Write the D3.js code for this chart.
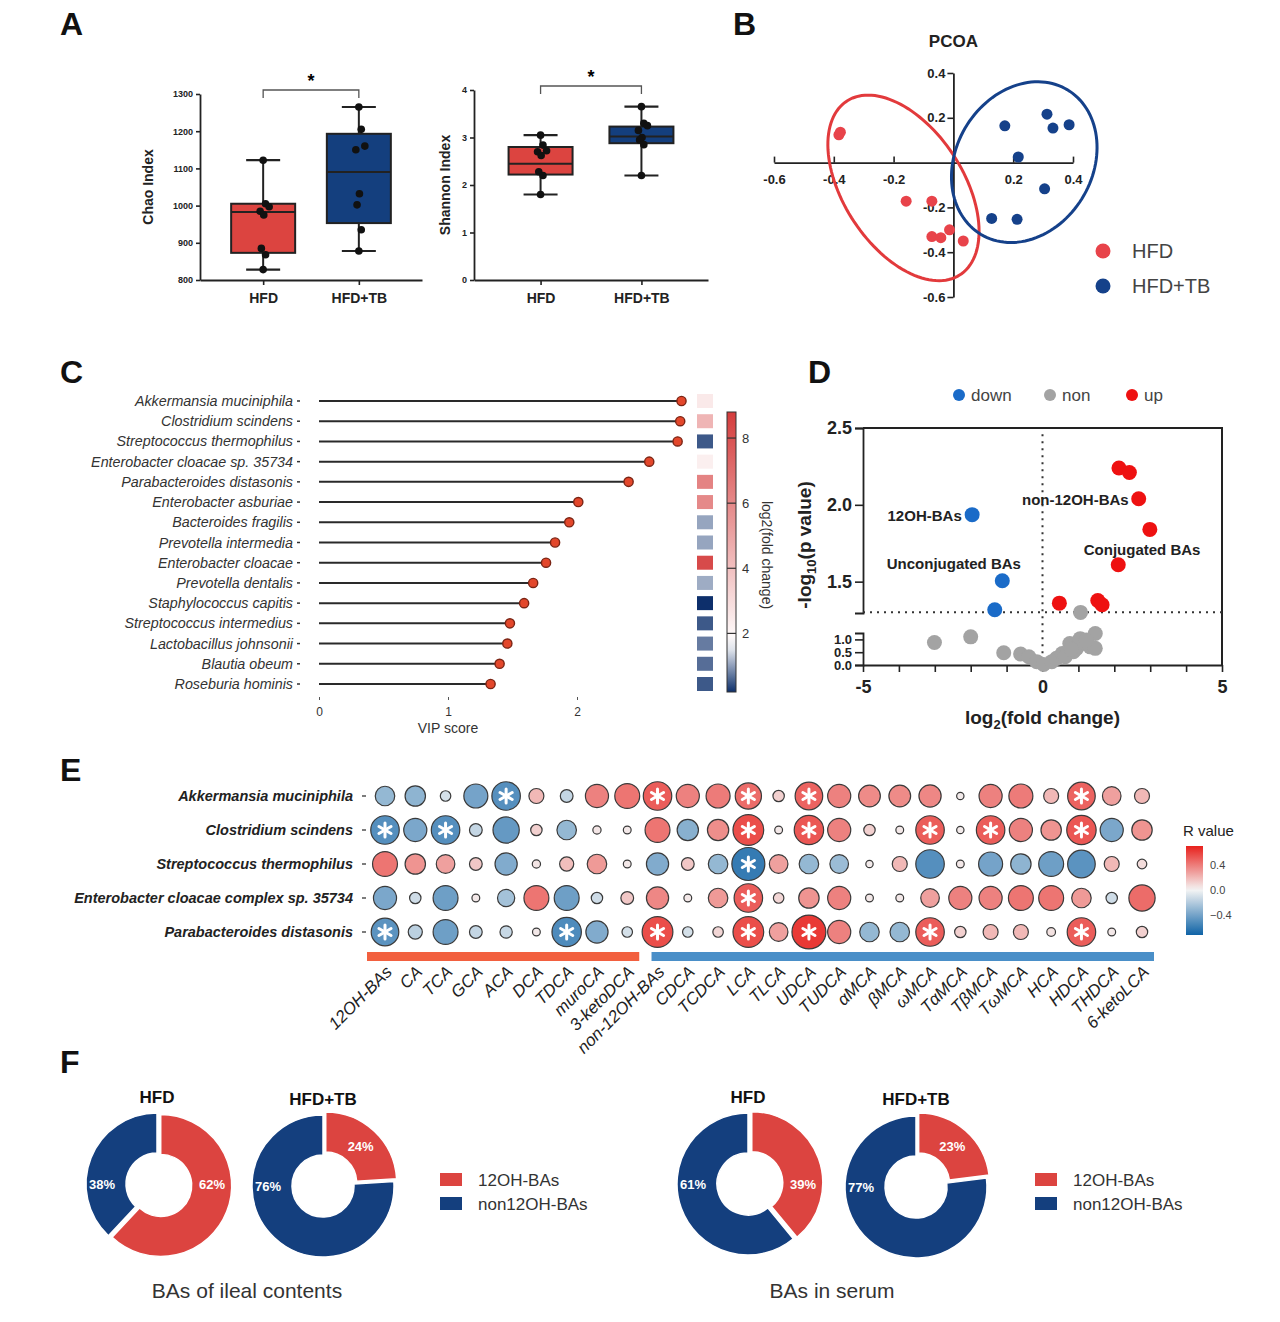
<!DOCTYPE html>
<html>
<head>
<meta charset="utf-8">
<script src="https://cdn.jsdelivr.net/npm/d3@7"></script>
<style>
body { margin: 0; background: #fff; }
svg { display: block; font-family: "Liberation Sans", Arial, sans-serif; }
</style>
</head>
<body>
<svg id="fig" width="1280" height="1322"></svg>
<script>
// ---- data ----
var groups = ["HFD", "HFD+TB"];

// A: alpha diversity (points and five-number summaries)
var chaoHFD = [1122, 1005, 997, 985, 975, 885, 868, 828];
var chaoTB = [1265, 1205, 1160, 1150, 1032, 1002, 935, 878];
var chaoBoxHFD = [828, 873, 983, 1005, 1122];
var chaoBoxTB = [878, 953, 1090, 1193, 1265];
var shannonHFD = [3.05, 2.84, 2.72, 2.70, 2.62, 2.28, 2.20, 1.80];
var shannonTB = [3.65, 3.30, 3.25, 3.15, 3.00, 2.95, 2.85, 2.20];
var shannonBoxHFD = [1.80, 2.22, 2.45, 2.80, 3.05];
var shannonBoxTB = [2.20, 2.88, 3.02, 3.23, 3.65];
var jitter = [0, 0.04, 0.1, -0.05, 0.01, -0.03, 0.04, 0];

// B: PCoA
var pcoaHFD = [[-0.383, 0.124], [-0.378, 0.136], [-0.158, -0.172], [-0.072, -0.172],
               [-0.072, -0.330], [-0.042, -0.335], [-0.013, -0.300], [0.033, -0.350]];
var pcoaTB = [[0.172, 0.164], [0.313, 0.216], [0.333, 0.154], [0.387, 0.169],
              [0.217, 0.025], [0.305, -0.117], [0.128, -0.249], [0.213, -0.253]];
var ellipseHFD = {center: [-0.167, -0.113], u: [0.189, -0.388], v: [-0.168, -0.145]};
var ellipseTB = {center: [0.237, 0.002], u: [0.143, 0.324], v: [0.197, -0.154]};

// C: VIP lollipop
var species = ["Akkermansia muciniphila", "Clostridium scindens", "Streptococcus thermophilus",
  "Enterobacter cloacae  sp. 35734", "Parabacteroides distasonis", "Enterobacter asburiae",
  "Bacteroides fragilis", "Prevotella intermedia", "Enterobacter cloacae", "Prevotella dentalis",
  "Staphylococcus capitis", "Streptococcus intermedius", "Lactobacillus johnsonii",
  "Blautia obeum", "Roseburia hominis"];
var vipScore = [2.81, 2.80, 2.78, 2.56, 2.40, 2.01, 1.94, 1.83, 1.76, 1.66, 1.59, 1.48, 1.46, 1.40, 1.33];
var log2FC = [2.5, 4.4, 0.5, 2.3, 6.2, 6.0, 1.05, 1.05, 8.3, 1.1, 0.2, 0.5, 0.75, 0.65, 0.5];
var fcTicks = [2, 4, 6, 8];

// D: volcano
var downPts = [[-1.96, 1.936], [-1.12, 1.506], [-1.33, 1.317]];
var upPts = [[2.13, 2.24], [2.42, 2.21], [2.68, 2.04], [2.99, 1.84], [2.11, 1.61],
             [0.47, 1.36], [1.54, 1.377], [1.66, 1.35]];
var nonPts = [[-3.01, 0.88], [-2.0, 1.10], [-1.08, 0.48], [-0.61, 0.43], [-0.38, 0.32],
  [-0.16, 0.13], [0.03, 0.02], [0.26, 0.13], [0.39, 0.26], [0.55, 0.45], [0.63, 0.32],
  [0.76, 0.84], [0.86, 0.52], [0.95, 0.65], [1.05, 1.03], [1.19, 0.84], [1.33, 0.71],
  [1.47, 1.23], [1.47, 0.65], [1.06, 1.30], [0.8, 0.62], [1.22, 0.98]];
var volcanoNotes = [
  {text: "12OH-BAs", x: -2.25, y: 1.936, anchor: "end"},
  {text: "non-12OH-BAs", x: 2.4, y: 2.04, anchor: "end"},
  {text: "Unconjugated BAs", x: -0.6, y: 1.62, anchor: "end"},
  {text: "Conjugated BAs", x: 1.15, y: 1.71, anchor: "start"}
];

// E: correlation bubbles
var taxa = ["Akkermansia muciniphila", "Clostridium scindens", "Streptococcus thermophilus",
  "Enterobacter cloacae complex sp. 35734", "Parabacteroides distasonis"];
var bileAcids = ["12OH-BAs", "CA", "TCA", "GCA", "ACA", "DCA", "TDCA", "muroCA", "3-ketoDCA",
  "non-12OH-BAs", "CDCA", "TCDCA", "LCA", "TLCA", "UDCA", "TUDCA", "\u03b1MCA", "\u03b2MCA",
  "\u03c9MCA", "T\u03b1MCA", "T\u03b2MCA", "T\u03c9MCA", "HCA", "HDCA", "THDCA", "6-ketoLCA"];
var rAkkermansia = [-0.30, -0.32, -0.10, -0.40, -0.50, 0.20, -0.15, 0.38, 0.42, 0.50, 0.38, 0.40, 0.45,
  0.12, 0.48, 0.38, 0.35, 0.35, 0.36, 0.03, 0.38, 0.40, 0.20, 0.48, 0.28, 0.20];
var rClostridium = [-0.50, -0.38, -0.50, -0.15, -0.45, 0.12, -0.30, 0.05, 0.04, 0.42, -0.34, 0.34, 0.55,
  0.04, 0.52, 0.38, 0.12, 0.04, 0.50, 0.03, 0.50, 0.38, 0.32, 0.52, -0.38, 0.32];
var rStreptococcus = [0.42, 0.32, 0.28, 0.15, -0.36, 0.05, 0.18, 0.30, 0.04, -0.36, 0.15, -0.30, -0.60,
  0.28, -0.30, -0.28, 0.03, 0.20, -0.50, 0.04, -0.40, -0.32, -0.42, -0.48, 0.20, 0.08];
var rEnterobacter = [-0.38, -0.12, -0.42, 0.04, -0.25, 0.42, -0.42, -0.12, 0.15, 0.36, 0.04, 0.30, 0.50,
  0.10, 0.32, 0.38, 0.04, 0.04, 0.28, 0.38, 0.38, 0.42, 0.42, 0.30, -0.12, 0.45];
var rParabacteroides = [-0.48, -0.18, -0.42, -0.15, -0.14, 0.04, -0.52, -0.36, -0.10, 0.55, -0.10, 0.10, 0.55,
  0.28, 0.62, 0.38, -0.30, -0.30, 0.50, 0.12, 0.20, 0.20, 0.06, 0.50, 0.04, 0.12];
var sigAkkermansia = [4, 9, 12, 14, 23];
var sigClostridium = [0, 2, 12, 14, 18, 20, 23];
var sigStreptococcus = [12];
var sigEnterobacter = [12];
var sigParabacteroides = [0, 6, 9, 12, 14, 18, 23];
var rTicks = [0.4, 0.0, -0.4];

// F: donuts (share of 12OH-BAs, %)
var ilealShare = [62, 24];
var serumShare = [39, 23];
var donutKeys = ["12OH-BAs", "non12OH-BAs"];

// ---- drawing ----
var svg = d3.select("#fig");
var RED = "#dc4440", NAVY = "#143f7e", INK = "#222";
var FONT = "Liberation Sans, Arial, sans-serif";
var defs = svg.append("defs");

function styleAxis(a, size, weight) {
  a.select(".domain").attr("stroke", INK).attr("stroke-width", 1.8);
  a.selectAll(".tick line").attr("stroke", INK).attr("stroke-width", 1.6);
  a.selectAll(".tick text").attr("font-size", size).attr("font-weight", weight || "bold")
    .attr("fill", "#222").attr("font-family", FONT);
}

// panel letters
[["A", 60, 35], ["B", 733, 35], ["C", 60, 383], ["D", 808, 383], ["E", 60, 781], ["F", 60, 1073]]
  .forEach(function(l) {
    svg.append("text").attr("x", l[1]).attr("y", l[2]).text(l[0])
      .attr("font-size", 32).attr("font-weight", "bold").attr("fill", "#111");
  });

// ===== A =====
function boxPanel(cfg) {
  var g = svg.append("g");
  var x = d3.scalePoint().domain(groups).range(cfg.xr).padding(cfg.pad);
  var y = d3.scaleLinear().domain(cfg.dom).range(cfg.yr);
  var ya = g.append("g").attr("transform", "translate(" + cfg.xr[0] + ",0)")
    .call(d3.axisLeft(y).tickValues(cfg.ticks).tickSize(4).tickSizeOuter(0).tickPadding(3).tickFormat(d3.format("d")));
  styleAxis(ya, 9);
  var xa = g.append("g").attr("transform", "translate(0," + cfg.yr[0] + ")")
    .call(d3.axisBottom(x).tickSize(5).tickSizeOuter(0).tickPadding(8));
  styleAxis(xa, 14);
  var colors = [RED, NAVY];
  [cfg.boxHFD, cfg.boxTB].forEach(function(b, i) {
    var cx = x(groups[i]), w = 64, cap = 17;
    g.append("line").attr("x1", cx).attr("x2", cx).attr("y1", y(b[0])).attr("y2", y(b[4]))
      .attr("stroke", INK).attr("stroke-width", 2);
    [b[0], b[4]].forEach(function(v) {
      g.append("line").attr("x1", cx - cap).attr("x2", cx + cap).attr("y1", y(v)).attr("y2", y(v))
        .attr("stroke", INK).attr("stroke-width", 2.2);
    });
    g.append("rect").attr("x", cx - w / 2).attr("width", w).attr("y", y(b[3]))
      .attr("height", y(b[1]) - y(b[3])).attr("fill", colors[i]).attr("stroke", INK).attr("stroke-width", 2);
    g.append("line").attr("x1", cx - w / 2).attr("x2", cx + w / 2).attr("y1", y(b[2])).attr("y2", y(b[2]))
      .attr("stroke", INK).attr("stroke-width", 2);
  });
  [cfg.ptsHFD, cfg.ptsTB].forEach(function(pts, i) {
    g.selectAll(null).data(pts).enter().append("circle")
      .attr("cx", function(d, j) { return x(groups[i]) + jitter[j] * 60; })
      .attr("cy", function(d) { return y(d); })
      .attr("r", 3.8).attr("fill", "#111");
  });
  var by = y(cfg.dom[1]) - 4;
  g.append("path").attr("d", "M" + x(groups[0]) + "," + (by + 8) + "V" + by + "H" + x(groups[1]) + "V" + (by + 8))
    .attr("fill", "none").attr("stroke", "#555").attr("stroke-width", 1.3);
  g.append("text").attr("x", (x(groups[0]) + x(groups[1])) / 2).attr("y", by - 3).attr("text-anchor", "middle")
    .attr("font-size", 18).attr("font-weight", "bold").text("*");
  g.append("text").attr("transform", "translate(" + cfg.titleX + "," + ((cfg.yr[0] + cfg.yr[1]) / 2) + ") rotate(-90)")
    .attr("text-anchor", "middle").attr("font-size", 14).attr("font-weight", "bold").attr("fill", "#222")
    .text(cfg.title);
}
boxPanel({xr: [200, 422], pad: 0.66, dom: [800, 1300], yr: [280, 94], ticks: [800, 900, 1000, 1100, 1200, 1300],
  boxHFD: chaoBoxHFD, boxTB: chaoBoxTB, ptsHFD: chaoHFD, ptsTB: chaoTB, title: "Chao Index", titleX: 153});
boxPanel({xr: [474, 708], pad: 0.66, dom: [0, 4], yr: [280, 90], ticks: [0, 1, 2, 3, 4],
  boxHFD: shannonBoxHFD, boxTB: shannonBoxTB, ptsHFD: shannonHFD, ptsTB: shannonTB, title: "Shannon Index", titleX: 450});

// ===== B =====
(function() {
  var g = svg.append("g");
  var x = d3.scaleLinear().domain([-0.6, 0.4]).range([774, 1073]);
  var y = d3.scaleLinear().domain([-0.6, 0.4]).range([297, 73]);
  var fmt = function(d) { return d3.format(".1f")(d).replace("\u2212", "-"); };
  var xa = g.append("g").attr("transform", "translate(0," + y(0) + ")")
    .call(d3.axisBottom(x).tickValues([-0.6, -0.4, -0.2, 0.2, 0.4]).tickSizeInner(-6).tickSizeOuter(0)
      .tickPadding(12).tickFormat(fmt));
  styleAxis(xa, 13);
  var ya = g.append("g").attr("transform", "translate(" + x(0) + ",0)")
    .call(d3.axisLeft(y).tickValues([0.4, 0.2, -0.2, -0.4, -0.6]).tickSize(6).tickSizeOuter(0)
      .tickPadding(2).tickFormat(fmt));
  styleAxis(ya, 13);
  g.append("text").attr("x", x(0)).attr("y", 47).attr("text-anchor", "middle")
    .attr("font-size", 17).attr("font-weight", "bold").attr("fill", "#222").text("PCOA");
  function ell(e) {
    var t = d3.range(0, 2 * Math.PI + 0.01, 0.05);
    return d3.line().curve(d3.curveLinearClosed)(t.map(function(a) {
      return [x(e.center[0] + e.u[0] * Math.cos(a) + e.v[0] * Math.sin(a)),
              y(e.center[1] + e.u[1] * Math.cos(a) + e.v[1] * Math.sin(a))];
    }));
  }
  g.append("path").attr("d", ell(ellipseHFD)).attr("fill", "none").attr("stroke", "#e23a3c").attr("stroke-width", 3);
  g.append("path").attr("d", ell(ellipseTB)).attr("fill", "none").attr("stroke", "#15418a").attr("stroke-width", 3);
  [[pcoaHFD, "#e8434a"], [pcoaTB, "#15418a"]].forEach(function(s) {
    g.selectAll(null).data(s[0]).enter().append("circle")
      .attr("cx", function(d) { return x(d[0]); }).attr("cy", function(d) { return y(d[1]); })
      .attr("r", 5.5).attr("fill", s[1]);
  });
  groups.forEach(function(k, i) {
    g.append("circle").attr("cx", 1103).attr("cy", 251 + i * 35).attr("r", 7.5).attr("fill", i ? "#15418a" : "#e8434a");
    g.append("text").attr("x", 1132).attr("y", 258 + i * 35).attr("font-size", 20).attr("fill", "#444").text(k);
  });
})();

// ===== C =====
(function() {
  var g = svg.append("g");
  var x = d3.scaleLinear().domain([0, 2]).range([319, 577]);
  var y = d3.scalePoint().domain(species).range([401, 684]);
  var col = d3.scaleLinear().domain([0.2, 1.7, 8.8]).range(["#0d2f6b", "#ffffff", "#d43c3c"]);
  g.selectAll(null).data(species).enter().append("text")
    .attr("x", 293).attr("y", function(d) { return y(d) + 5; }).attr("text-anchor", "end")
    .attr("font-size", 14.3).attr("font-style", "italic").attr("fill", "#333").text(function(d) { return d; });
  g.selectAll(null).data(species).enter().append("line")
    .attr("x1", 297).attr("x2", 300).attr("y1", function(d) { return y(d); }).attr("y2", function(d) { return y(d); })
    .attr("stroke", "#333").attr("stroke-width", 1.5);
  g.selectAll(null).data(vipScore).enter().append("line")
    .attr("x1", x(0)).attr("x2", function(d) { return x(d); })
    .attr("y1", function(d, i) { return y(species[i]); }).attr("y2", function(d, i) { return y(species[i]); })
    .attr("stroke", "#2a2a2a").attr("stroke-width", 2);
  g.selectAll(null).data(vipScore).enter().append("circle")
    .attr("cx", function(d) { return x(d); }).attr("cy", function(d, i) { return y(species[i]); })
    .attr("r", 4.6).attr("fill", "#e3472b").attr("stroke", "#7a2414").attr("stroke-width", 1.4);
  g.selectAll(null).data(log2FC).enter().append("rect")
    .attr("x", 697).attr("width", 16).attr("y", function(d, i) { return y(species[i]) - 7; }).attr("height", 14)
    .attr("fill", function(d) { return col(d); });
  var ax = g.append("g").attr("transform", "translate(0,700)")
    .call(d3.axisTop(x).tickValues([0, 1, 2]).tickSize(3).tickSizeOuter(0).tickFormat(d3.format("d")));
  ax.select(".domain").remove();
  ax.selectAll(".tick line").attr("stroke", "#555");
  ax.selectAll(".tick text").attr("y", 12).attr("dy", "0.32em").attr("font-size", 12).attr("fill", "#333").attr("font-family", FONT);
  g.append("text").attr("x", x(1)).attr("y", 733).attr("text-anchor", "middle").attr("font-size", 14).attr("fill", "#333").text("VIP score");
  // colour bar
  var cy = d3.scaleLinear().domain([0.2, 8.8]).range([692, 412]);
  var grad = defs.append("linearGradient").attr("id", "gFC").attr("x1", 0).attr("x2", 0).attr("y1", 1).attr("y2", 0);
  d3.range(0, 1.001, 0.05).forEach(function(t) {
    grad.append("stop").attr("offset", t).attr("stop-color", col(0.2 + t * 8.6));
  });
  g.append("rect").attr("x", 727).attr("width", 9).attr("y", cy(8.8)).attr("height", cy(0.2) - cy(8.8))
    .attr("fill", "url(#gFC)").attr("stroke", "#333").attr("stroke-width", 1);
  fcTicks.forEach(function(t) {
    g.append("line").attr("x1", 727).attr("x2", 736).attr("y1", cy(t)).attr("y2", cy(t)).attr("stroke", "#333").attr("stroke-width", 1.2);
    g.append("text").attr("x", 742).attr("y", cy(t) + 5).attr("font-size", 13).attr("fill", "#333").text(t);
  });
  g.append("text").attr("transform", "translate(762,555) rotate(90)").attr("text-anchor", "middle")
    .attr("font-size", 14).attr("fill", "#333").text("log2(fold change)");
})();

// ===== D =====
(function() {
  var g = svg.append("g");
  var x = d3.scaleLinear().domain([-5, 5]).range([863, 1222]);
  var yHi = d3.scaleLinear().domain([1.296, 2.5]).range([613, 428]);
  var yLo = d3.scaleLinear().domain([0, 1.25]).range([665, 633]);
  function yv(v) { return v >= 1.28 ? yHi(Math.max(v, 1.296)) : yLo(Math.min(v, 1.25)); }
  // legend
  [["down", "#1a6bc8", 959], ["non", "#a3a3a3", 1050], ["up", "#ee1111", 1132]].forEach(function(l) {
    g.append("circle").attr("cx", l[2]).attr("cy", 395).attr("r", 6).attr("fill", l[1]);
    g.append("text").attr("x", l[2] + 12).attr("y", 401).attr("font-size", 17).attr("fill", "#444").text(l[0]);
  });
  // frame
  g.append("path").attr("d", "M" + x(-5) + "," + yHi(2.5) + "H" + x(5) + "V" + yLo(0))
    .attr("fill", "none").attr("stroke", INK).attr("stroke-width", 2);
  var a1 = g.append("g").attr("transform", "translate(" + x(-5) + ",0)")
    .call(d3.axisLeft(yHi).tickValues([1.5, 2.0, 2.5]).tickSize(8).tickSizeOuter(8).tickFormat(d3.format(".1f")));
  styleAxis(a1, 18);
  var a2 = g.append("g").attr("transform", "translate(" + x(-5) + ",0)")
    .call(d3.axisLeft(yLo).tickValues([0, 0.5, 1.0]).tickSize(8).tickSizeOuter(8).tickFormat(d3.format(".1f")));
  styleAxis(a2, 13);
  var ax = g.append("g").attr("transform", "translate(0," + yLo(0) + ")")
    .call(d3.axisBottom(x).tickValues(d3.range(-5, 6)).tickSize(7).tickSizeOuter(0).tickPadding(8)
      .tickFormat(function(d) { return d % 5 === 0 ? d : ""; }));
  styleAxis(ax, 18);
  // thresholds
  g.append("line").attr("x1", x(0)).attr("x2", x(0)).attr("y1", yHi(2.46)).attr("y2", yLo(0))
    .attr("stroke", "#333").attr("stroke-width", 2).attr("stroke-dasharray", "2,5");
  g.append("line").attr("x1", x(-5)).attr("x2", x(5)).attr("y1", yHi(1.301)).attr("y2", yHi(1.301))
    .attr("stroke", "#333").attr("stroke-width", 2).attr("stroke-dasharray", "2,5");
  [[nonPts, "#a3a3a3"], [downPts, "#1a6bc8"], [upPts, "#ee1111"]].forEach(function(s) {
    g.selectAll(null).data(s[0]).enter().append("circle")
      .attr("cx", function(d) { return x(d[0]); }).attr("cy", function(d) { return yv(d[1]); })
      .attr("r", 7.5).attr("fill", s[1]);
  });
  volcanoNotes.forEach(function(n) {
    g.append("text").attr("x", x(n.x)).attr("y", yv(n.y) + 6).attr("text-anchor", n.anchor)
      .attr("font-size", 15).attr("font-weight", "bold").attr("fill", "#222").text(n.text);
  });
  var xt = g.append("text").attr("x", x(0)).attr("y", 724).attr("text-anchor", "middle")
    .attr("font-size", 19).attr("font-weight", "bold").attr("fill", "#222");
  xt.append("tspan").text("log");
  xt.append("tspan").attr("font-size", 13).attr("dy", 5).text("2");
  xt.append("tspan").attr("dy", -5).text("(fold change)");
  var yt = g.append("text").attr("transform", "translate(811,545) rotate(-90)").attr("text-anchor", "middle")
    .attr("font-size", 19).attr("font-weight", "bold").attr("fill", "#222");
  yt.append("tspan").text("-log");
  yt.append("tspan").attr("font-size", 13).attr("dy", 5).text("10");
  yt.append("tspan").attr("dy", -5).text("(p value)");
})();

// ===== E =====
(function() {
  var g = svg.append("g");
  var rows = [rAkkermansia, rClostridium, rStreptococcus, rEnterobacter, rParabacteroides];
  var sigs = [sigAkkermansia, sigClostridium, sigStreptococcus, sigEnterobacter, sigParabacteroides];
  var x = d3.scalePoint().domain(bileAcids).range([385, 1142]);
  var y = d3.scalePoint().domain(taxa).range([796, 932]);
  var col = d3.scaleLinear().domain([-0.7, 0, 0.7]).range(["#1567a8", "#f4f4f4", "#e8211c"]);
  var rad = d3.scaleLinear().domain([0, 0.6]).range([3, 16.5]);
  g.selectAll(null).data(taxa).enter().append("text")
    .attr("x", 353).attr("y", function(d) { return y(d) + 5; }).attr("text-anchor", "end")
    .attr("font-size", 14.5).attr("font-style", "italic").attr("font-weight", "bold").attr("fill", "#222")
    .text(function(d) { return d; });
  g.selectAll(null).data(taxa).enter().append("line")
    .attr("x1", 362).attr("x2", 366).attr("y1", function(d) { return y(d); }).attr("y2", function(d) { return y(d); })
    .attr("stroke", "#444").attr("stroke-width", 1.4);
  rows.forEach(function(vals, i) {
    vals.forEach(function(v, j) {
      var cx = x(bileAcids[j]), cy = y(taxa[i]);
      g.append("circle").attr("cx", cx).attr("cy", cy).attr("r", rad(Math.abs(v)))
        .attr("fill", col(v)).attr("stroke", "#3a3a3a").attr("stroke-width", 1.2);
      if (sigs[i].indexOf(j) >= 0) {
        [0, 60, 120].forEach(function(a) {
          var dx = 7 * Math.sin(a * Math.PI / 180), dy = 7 * Math.cos(a * Math.PI / 180);
          g.append("line").attr("x1", cx - dx).attr("x2", cx + dx).attr("y1", cy - dy).attr("y2", cy + dy)
            .attr("stroke", "#fff").attr("stroke-width", 3).attr("stroke-linecap", "round");
        });
      }
    });
  });
  g.append("rect").attr("x", x(bileAcids[0]) - 18).attr("y", 952).attr("height", 9)
    .attr("width", x(bileAcids[8]) + 12 - (x(bileAcids[0]) - 18)).attr("fill", "#f2603f");
  g.append("rect").attr("x", x(bileAcids[9]) - 6).attr("y", 952).attr("height", 9)
    .attr("width", x(bileAcids[25]) + 12 - (x(bileAcids[9]) - 6)).attr("fill", "#4a8fc8");
  g.selectAll(null).data(bileAcids).enter().append("text")
    .attr("transform", function(d) { return "translate(" + (x(d) + 8) + ",973) rotate(-45)"; })
    .attr("text-anchor", "end").attr("font-size", 17).attr("font-style", "italic").attr("fill", "#222")
    .text(function(d) { return d; });
  // legend
  g.append("text").attr("x", 1183).attr("y", 836).attr("font-size", 15).attr("fill", "#222").text("R value");
  var ly = d3.scaleLinear().domain([-0.72, 0.7]).range([935, 846]);
  var grad = defs.append("linearGradient").attr("id", "gR").attr("x1", 0).attr("x2", 0).attr("y1", 1).attr("y2", 0);
  d3.range(0, 1.001, 0.05).forEach(function(t) {
    grad.append("stop").attr("offset", t).attr("stop-color", col(-0.72 + t * 1.42));
  });
  g.append("rect").attr("x", 1186).attr("width", 17).attr("y", ly(0.7)).attr("height", ly(-0.72) - ly(0.7)).attr("fill", "url(#gR)");
  rTicks.forEach(function(t) {
    g.append("text").attr("x", 1210).attr("y", ly(t) + 4).attr("font-size", 11).attr("fill", "#444").text(d3.format(".1f")(t));
  });
})();

// ===== F =====
(function() {
  var g = svg.append("g");
  var pie = d3.pie().sort(null).value(function(d) { return d; });
  var arc = d3.arc().innerRadius(31).outerRadius(71);
  var colors = [RED, NAVY];
  function donut(cx, cy, share, title) {
    var dg = g.append("g").attr("transform", "translate(" + cx + "," + cy + ")");
    var arcs = pie([share, 100 - share]);
    arcs.forEach(function(a, i) {
      var mid = (a.startAngle + a.endAngle) / 2;
      var off = i === 0 ? 4 : 0;
      dg.append("path").attr("d", arc(a)).attr("fill", colors[i])
        .attr("transform", "translate(" + (off * Math.sin(mid)) + "," + (-off * Math.cos(mid)) + ")")
        .attr("stroke", "#fff").attr("stroke-width", 1.5);
      var la = i === 0 ? (mid < Math.PI / 3 ? mid : Math.PI / 2) : 1.5 * Math.PI;
      dg.append("text").attr("x", 55 * Math.sin(la)).attr("y", -55 * Math.cos(la) + 5)
        .attr("text-anchor", "middle").attr("font-size", 13).attr("font-weight", "bold").attr("fill", "#fff")
        .text((i === 0 ? share : 100 - share) + "%");
    });
    g.append("text").attr("x", cx).attr("y", 1103 + (title === "HFD" ? 0 : 2)).attr("text-anchor", "middle")
      .attr("font-size", 17).attr("font-weight", "bold").attr("fill", "#111").text(title);
  }
  donut(157, 1184, ilealShare[0], groups[0]);
  donut(323, 1186, ilealShare[1], groups[1]);
  donut(748, 1184, serumShare[0], groups[0]);
  donut(916, 1187, serumShare[1], groups[1]);
  [440, 1035].forEach(function(lx) {
    donutKeys.forEach(function(k, i) {
      g.append("rect").attr("x", lx).attr("y", 1173 + i * 24).attr("width", 22).attr("height", 13).attr("fill", colors[i]);
      g.append("text").attr("x", lx + 38).attr("y", 1186 + i * 24).attr("font-size", 17).attr("fill", "#333").text(k);
    });
  });
  g.append("text").attr("x", 247).attr("y", 1298).attr("text-anchor", "middle").attr("font-size", 21).attr("fill", "#333").text("BAs of ileal contents");
  g.append("text").attr("x", 832).attr("y", 1298).attr("text-anchor", "middle").attr("font-size", 21).attr("fill", "#333").text("BAs in serum");
})();
</script>
</body>
</html>
